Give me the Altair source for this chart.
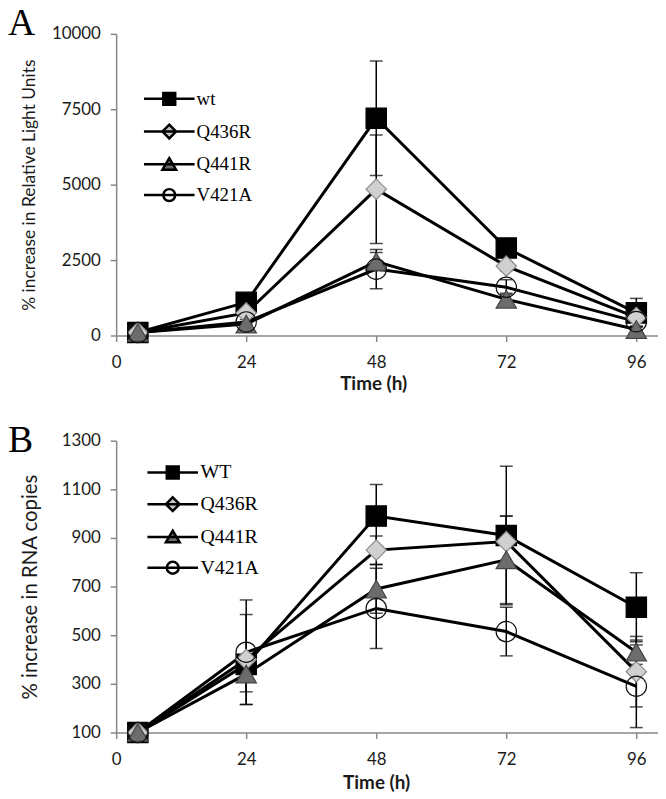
import altair as alt
import pandas as pd

# ---------------- data ----------------
times = [4, 24, 48, 72, 96]
x_ticks = [0, 24, 48, 72, 96]

series_a = ["wt", "Q436R", "Q441R", "V421A"]
series_b = ["WT", "Q436R", "Q441R", "V421A"]

# Panel A: % increase in Relative Light Units
a_wt = [100, 1100, 7200, 2900, 750]
a_wt_err = [50, 150, 1900, 200, 480]
a_q436r = [100, 750, 4850, 2300, 600]
a_q436r_err = [30, 100, 1800, 150, 150]
a_q441r = [100, 380, 2450, 1200, 200]
a_q441r_err = [30, 60, 300, 200, 100]
a_v421a = [100, 450, 2200, 1600, 460]
a_v421a_err = [30, 80, 650, 250, 150]
a_yticks = [0, 2500, 5000, 7500, 10000]

# Panel B: % increase in RNA copies
b_wt = [100, 380, 990, 910, 615]
b_wt_err = [0, 40, 130, 285, 142]
b_q436r = [100, 400, 850, 885, 350]
b_q436r_err = [0, 185, 58, 105, 145]
b_q441r = [100, 340, 690, 810, 430]
b_q441r_err = [0, 73, 100, 180, 50]
b_v421a = [100, 430, 610, 515, 290]
b_v421a_err = [0, 215, 165, 100, 170]
b_yticks = [100, 300, 500, 700, 900, 1100, 1300]

# ---------------- styles ----------------
marker_shapes = ["square", "diamond", "triangle-up", "circle"]
marker_fills = ["#000000", "#d0d0d0", "#6c6c6c", "transparent"]
marker_strokes = ["#000000", "#8a8a8a", "#444444", "#111111"]
marker_sizes = [420, 420, 400, 300]

legend_paths = [
    "M-4.25,0H4.25M-1,-1H1V1H-1Z",
    "M-4.25,0H4.25M0,-1.15L1.15,0L0,1.15L-1.15,0Z",
    "M-4.25,0H4.25M0,-1.05L1.15,0.9H-1.15Z",
    "M-4.25,0H4.25M1,0A1,1,0,1,1,-1,0A1,1,0,1,1,1,0Z",
]
legend_fills = ["#000000", "#c4c4c4", "#6c6c6c", "transparent"]
legend_strokes = ["#000000", "#000000", "#000000", "#000000"]

AXIS_GRAY = "#878787"


def long_df(series, values, errors):
    rows = []
    for s, vals, errs in zip(series, values, errors):
        for t, v, e in zip(times, vals, errs):
            rows.append({"series": s, "time": t, "value": v, "lo": v - e, "hi": v + e})
    return pd.DataFrame(rows)


df_a = long_df(series_a, [a_wt, a_q436r, a_q441r, a_v421a],
               [a_wt_err, a_q436r_err, a_q441r_err, a_v421a_err])
df_b = long_df(series_b, [b_wt, b_q436r, b_q441r, b_v421a],
               [b_wt_err, b_q436r_err, b_q441r_err, b_v421a_err])


def panel(df, series, ydomain, yticks, ytitle, ytitle_size, ytitle_pad,
          letter, letter_y, leg_x, leg_y, leg_font, height, xtitle_x, xtitle_pad):
    x_enc = alt.X("time:Q", scale=alt.Scale(domain=[0, 100], nice=False, zero=False),
                  axis=alt.Axis(values=x_ticks, format="d", title="Time (h)",
                                titleFontWeight="bold", titleFontSize=19,
                                titlePadding=xtitle_pad, titleX=xtitle_x,
                                labelPadding=13, labelFlush=False))
    y_enc = alt.Y("value:Q", scale=alt.Scale(domain=ydomain, nice=False, zero=False),
                  axis=alt.Axis(values=yticks, format="d", title=ytitle,
                                titleFontWeight="normal", titleFontSize=ytitle_size,
                                titlePadding=ytitle_pad, labelPadding=10))
    base = alt.Chart(df)
    lines = base.mark_line(color="black", strokeWidth=3).encode(
        x=x_enc, y=y_enc, detail="series:N")
    rules = base.mark_rule(color="black", strokeWidth=1.5).encode(
        x="time:Q", y="lo:Q", y2="hi:Q")
    caps_lo = base.mark_tick(orient="horizontal", color="black", size=13,
                             thickness=1.5).encode(x="time:Q", y="lo:Q")
    caps_hi = base.mark_tick(orient="horizontal", color="black", size=13,
                             thickness=1.5).encode(x="time:Q", y="hi:Q")
    points = base.mark_point(filled=True, opacity=1, strokeWidth=1.2).encode(
        x=x_enc, y=y_enc,
        shape=alt.Shape("series:N", scale=alt.Scale(domain=series, range=marker_shapes), legend=None),
        fill=alt.Fill("series:N", scale=alt.Scale(domain=series, range=marker_fills), legend=None),
        stroke=alt.Stroke("series:N", scale=alt.Scale(domain=series, range=marker_strokes), legend=None),
        size=alt.Size("series:N", scale=alt.Scale(domain=series, range=marker_sizes), legend=None),
    )
    leg = alt.Legend(title=None, orient="none", legendX=leg_x, legendY=leg_y,
                     labelFont="Liberation Serif", labelFontSize=leg_font,
                     labelColor="black", symbolSize=144, symbolStrokeWidth=2.5,
                     symbolOpacity=1, rowPadding=9, labelOffset=18, padding=0)
    # legend-only layer: no rows survive the filter, the legend comes from the fixed scale domain
    legend_layer = base.transform_filter(alt.datum.time < 0).mark_point(
        filled=True, opacity=1, strokeWidth=2.5).encode(
        x=x_enc, y=y_enc,
        shape=alt.Shape("series:N", scale=alt.Scale(domain=series, range=legend_paths), legend=leg),
        fill=alt.Fill("series:N", scale=alt.Scale(domain=series, range=legend_fills), legend=leg),
        stroke=alt.Stroke("series:N", scale=alt.Scale(domain=series, range=legend_strokes), legend=leg),
    )
    letter_layer = alt.Chart(pd.DataFrame({"letter": [letter]})).mark_text(
        font="Liberation Serif", fontSize=38, align="left", baseline="alphabetic",
        color="black").encode(text="letter:N", x=alt.value(-109), y=alt.value(letter_y))
    return alt.layer(lines, rules, caps_lo, caps_hi, points, legend_layer, letter_layer).resolve_scale(
        shape="independent", fill="independent", stroke="independent", size="independent"
    ).properties(width=546, height=height)


chart_a = panel(df_a, series_a, [0, 10000], a_yticks, "% increase in Relative Light Units",
                17.5, 13, "A", 1, 44, 56, 19, 304, 259, 4)
chart_b = panel(df_b, series_b, [100, 1300], b_yticks, "% increase in RNA copies",
                20.5, 21, "B", 11, 47, 22, 20, 294, 262, 6)

chart = alt.vconcat(chart_a, chart_b, spacing=106, bounds="flush").properties(
    padding={"top": -6, "left": 0, "right": 0, "bottom": 0}
).configure_view(stroke=None).configure_axis(
    domainColor=AXIS_GRAY, tickColor=AXIS_GRAY, domainWidth=1.5, tickWidth=1.5,
    tickSize=6, grid=False, labelFont="Lato", labelFontSize=17, labelColor="#1a1a1a",
    titleFont="Lato", titleColor="#1a1a1a"
)

chart.save("out.html", embed_options={"renderer": "svg", "actions": False})
